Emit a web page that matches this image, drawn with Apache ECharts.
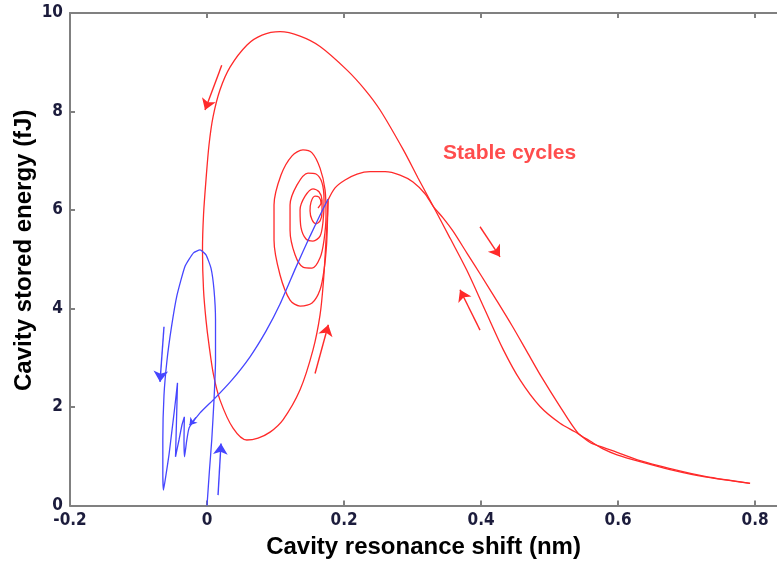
<!DOCTYPE html>
<html><head><meta charset="utf-8">
<script src="https://cdn.jsdelivr.net/npm/echarts@6/dist/echarts.min.js"></script>
<style>html,body{margin:0;padding:0;background:#fff}#c{width:777px;height:565px}</style>
</head><body><div id="c"></div>
<script>
// Tick values and labels
const xTicks = [-0.2, 0, 0.2, 0.4, 0.6, 0.8];
const xTickLabels = ['-0.2','0','0.2','0.4','0.6','0.8'];
const yTicks = [0, 2, 4, 6, 8, 10];
const yTickLabels = ['0','2','4','6','8','10'];

// Blue transient trajectory [shift (nm), energy (fJ)]
const bluePath = [
[0,0],[0.0036,0.72],[0.0069,1.33],[0.0102,2.14],[0.0124,2.95],[0.0124,3.77],[0.0102,4.38],[0.0058,4.82],[-0.0015,5.09],[-0.0102,5.19],[-0.0197,5.13],[-0.0321,4.86],[-0.0438,4.27],[-0.0518,3.63],[-0.0584,2.95],[-0.0628,2.24],[-0.0645,1.33],[-0.0645,0.62],[-0.0635,0.315],
[-0.0599,0.62],[-0.0555,1.03],[-0.0511,1.53],[-0.0467,2.04],[-0.0431,2.49],[-0.0445,1.74],[-0.0460,0.99],[-0.0409,1.33],[-0.0365,1.64],[-0.0331,1.80],[-0.0336,1.33],[-0.0328,0.99],[-0.0299,1.29],[-0.0270,1.53],[-0.0248,1.61],
[-0.0102,1.88],[0.0117,2.18],[0.0365,2.55],[0.0628,3.02],[0.0861,3.54],[0.1066,4.09],[0.1299,4.84],[0.1504,5.47],[0.1679,5.98],[0.1766,6.22]
];

// Red spiral around the fixed point
const redSpiral = [
[0.1620,6.04],[0.1664,6.14],[0.1635,6.26],[0.1577,6.28],[0.1518,6.16],[0.1504,5.98],[0.1533,5.80],[0.1591,5.72],[0.1650,5.78],[0.1679,5.96],
[0.1679,6.20],[0.1635,6.37],[0.1547,6.43],[0.1431,6.28],[0.1358,6.00],[0.1372,5.64],[0.1445,5.41],[0.1547,5.37],[0.1650,5.47],[0.1693,5.76],
[0.1708,6.20],[0.1679,6.55],[0.1591,6.73],[0.1474,6.75],[0.1314,6.51],[0.1212,6.10],[0.1212,5.59],[0.1285,5.09],[0.1401,4.84],[0.1533,4.82],[0.1650,5.03],[0.1708,5.39],
[0.1737,5.90],[0.1723,6.41],[0.1650,6.85],[0.1533,7.16],[0.1401,7.22],[0.1241,7.10],[0.1080,6.71],[0.0978,6.10],[0.0978,5.39],[0.1066,4.68],[0.1212,4.17],[0.1358,4.05],[0.1533,4.11],[0.1650,4.38],[0.1708,4.78],[0.1745,5.29],[0.1759,5.80],[0.1766,6.20]
];

// Red stable cycle: hump branch out to the tail
const redOut = [
[0.1766,6.20],[0.1869,6.45],[0.2015,6.61],[0.2190,6.73],[0.2380,6.78],[0.2599,6.78],[0.2818,6.71],[0.3007,6.57],[0.3182,6.33],[0.3299,6.08],[0.3445,5.84],[0.3591,5.57],[0.3796,5.12],[0.4015,4.64],[0.4234,4.15],[0.4453,3.65],[0.4672,3.12],[0.4891,2.59],[0.5139,2.04],[0.5416,1.47],[0.5591,1.31],[0.5781,1.15],[0.5985,1.03],[0.6321,0.89],[0.6759,0.73],[0.7270,0.58],[0.7927,0.45]
];

// Red stable cycle: return from the tail over the big loop
const redBack = [
[0.7927,0.45],[0.7270,0.59],[0.6759,0.75],[0.6321,0.91],[0.5985,1.08],[0.5737,1.20],[0.5591,1.28],[0.5416,1.46],[0.5153,1.67],[0.4861,2.01],[0.4569,2.55],[0.4326,3.16],[0.4058,3.97],[0.3791,4.78],[0.3547,5.43],[0.3304,6.07],[0.3080,6.65],[0.2866,7.22],[0.2526,8.03],[0.2307,8.44],[0.2044,8.84],[0.1650,9.32],[0.1358,9.53],[0.1066,9.62],[0.0803,9.55],[0.0584,9.35],[0.0336,8.90],[0.0190,8.44],[0.0088,7.89],[0.0029,7.32],[-0.0015,6.61],[-0.0051,5.90],[-0.0066,5.19],[-0.0051,4.38],[-0.0015,3.77],[0.0029,3.26],[0.0095,2.65],[0.0190,2.14],[0.0380,1.57],[0.0580,1.33],[0.0745,1.37],[0.0920,1.49],[0.1109,1.74],[0.1358,2.35],[0.1547,3.16],[0.1650,3.87],[0.1701,4.58],[0.1737,5.39],[0.1759,5.90],[0.1766,6.20]
];

// Direction arrows [x1, y1, x2(tip), y2(tip)]
const redArrows = [[0.0215,8.94,-0.0029,8.03],[0.3985,5.66,0.4277,5.05],[0.3985,3.56,0.3693,4.38],[0.1577,2.68,0.1771,3.67]];
const blueArrows = [[-0.0628,3.63,-0.0686,2.51],[0.0161,0.21,0.0204,1.26]];
const blueSmallArrows = [[-0.0161,1.79,-0.0255,1.63]];

// Annotation
const annotText = 'Stable cycles';
const annotPos = [0.3445, 7.16];

const RED = '#ff2a2a', BLUE = '#4646ff', AX = '#808080', TICKC = '#1c1c3c';
const TICKFONT = '"Liberation Sans Narrow", "DejaVu Sans Condensed", "Liberation Sans", sans-serif';
const TITLEFONT = '"Liberation Sans", Arial, sans-serif';
const toLines = a => a.map(r => ({coords: [[r[0], r[1]], [r[2], r[3]]]}));

const chart = echarts.init(document.getElementById('c'), null, {renderer: 'canvas'});
const xCommon = {
  type: 'value', min: -0.2, max: 0.832,
  axisLine: {show: true, onZero: false, lineStyle: {color: AX, width: 2}},
  axisTick: {show: true, inside: true, length: 5, customValues: xTicks, lineStyle: {color: AX, width: 2}},
  splitLine: {show: false}
};
chart.setOption({
  animation: false,
  grid: {left: 70, right: 0, top: 13, height: 492.5, containLabel: false},
  xAxis: [
    Object.assign({}, xCommon, {
      position: 'bottom',
      axisLabel: {customValues: xTicks, margin: 7, color: TICKC, fontFamily: TICKFONT, fontWeight: 'bold', fontSize: 17,
        formatter: v => { const i = xTicks.findIndex(t => Math.abs(t - v) < 1e-6); return i >= 0 ? xTickLabels[i] : ''; }},
      name: 'Cavity resonance shift (nm)', nameLocation: 'middle', nameGap: 30, nameMoveOverlap: false,
      nameTextStyle: {color: '#000', fontFamily: TITLEFONT, fontWeight: 'bold', fontSize: 24}
    }),
    Object.assign({}, xCommon, {position: 'top', axisLabel: {show: false}})
  ],
  yAxis: [{
    type: 'value', min: 0, max: 10, interval: 2,
    axisLine: {show: true, onZero: false, lineStyle: {color: AX, width: 2}},
    axisTick: {show: true, inside: true, length: 5, lineStyle: {color: AX, width: 2}},
    splitLine: {show: false},
    axisLabel: {margin: 7, color: TICKC, fontFamily: TICKFONT, fontWeight: 'bold', fontSize: 17,
      formatter: v => { const i = yTicks.indexOf(Math.round(v)); return i >= 0 ? yTickLabels[i] : ''; }},
    name: 'Cavity stored energy (fJ)', nameLocation: 'middle', nameGap: 34, nameRotate: 90, nameMoveOverlap: false,
    nameTextStyle: {color: '#000', fontFamily: TITLEFONT, fontWeight: 'bold', fontSize: 24, padding: [0, 0, 0, 18]}
  }],
  series: [
    {type: 'line', data: redSpiral, smooth: 0.3, symbol: 'none', lineStyle: {color: RED, width: 1.3}, z: 2},
    {type: 'line', data: redOut, smooth: 0.3, symbol: 'none', lineStyle: {color: RED, width: 1.3}, z: 2},
    {type: 'line', data: redBack, smooth: 0.3, symbol: 'none', lineStyle: {color: RED, width: 1.3}, z: 2},
    {type: 'line', data: bluePath, smooth: 0.15, symbol: 'none', lineStyle: {color: BLUE, width: 1.3}, z: 3},
    {type: 'lines', coordinateSystem: 'cartesian2d', data: toLines(redArrows), symbol: ['none', 'arrow'], symbolSize: 11,
      lineStyle: {color: RED, width: 1.4, opacity: 1}, z: 4},
    {type: 'lines', coordinateSystem: 'cartesian2d', data: toLines(blueArrows), symbol: ['none', 'arrow'], symbolSize: 11,
      lineStyle: {color: BLUE, width: 1.4, opacity: 1}, z: 4},
    {type: 'lines', coordinateSystem: 'cartesian2d', data: toLines(blueSmallArrows), symbol: ['none', 'arrow'], symbolSize: 7,
      lineStyle: {color: BLUE, width: 1.2, opacity: 1}, z: 4},
    {type: 'scatter', data: [annotPos], symbolSize: 0, silent: true, z: 5,
      label: {show: true, position: 'inside', align: 'left', verticalAlign: 'middle', formatter: annotText,
        color: '#ff2020', fontFamily: TITLEFONT, fontWeight: 'bold', fontSize: 21}}
  ]
});
</script></body></html>
